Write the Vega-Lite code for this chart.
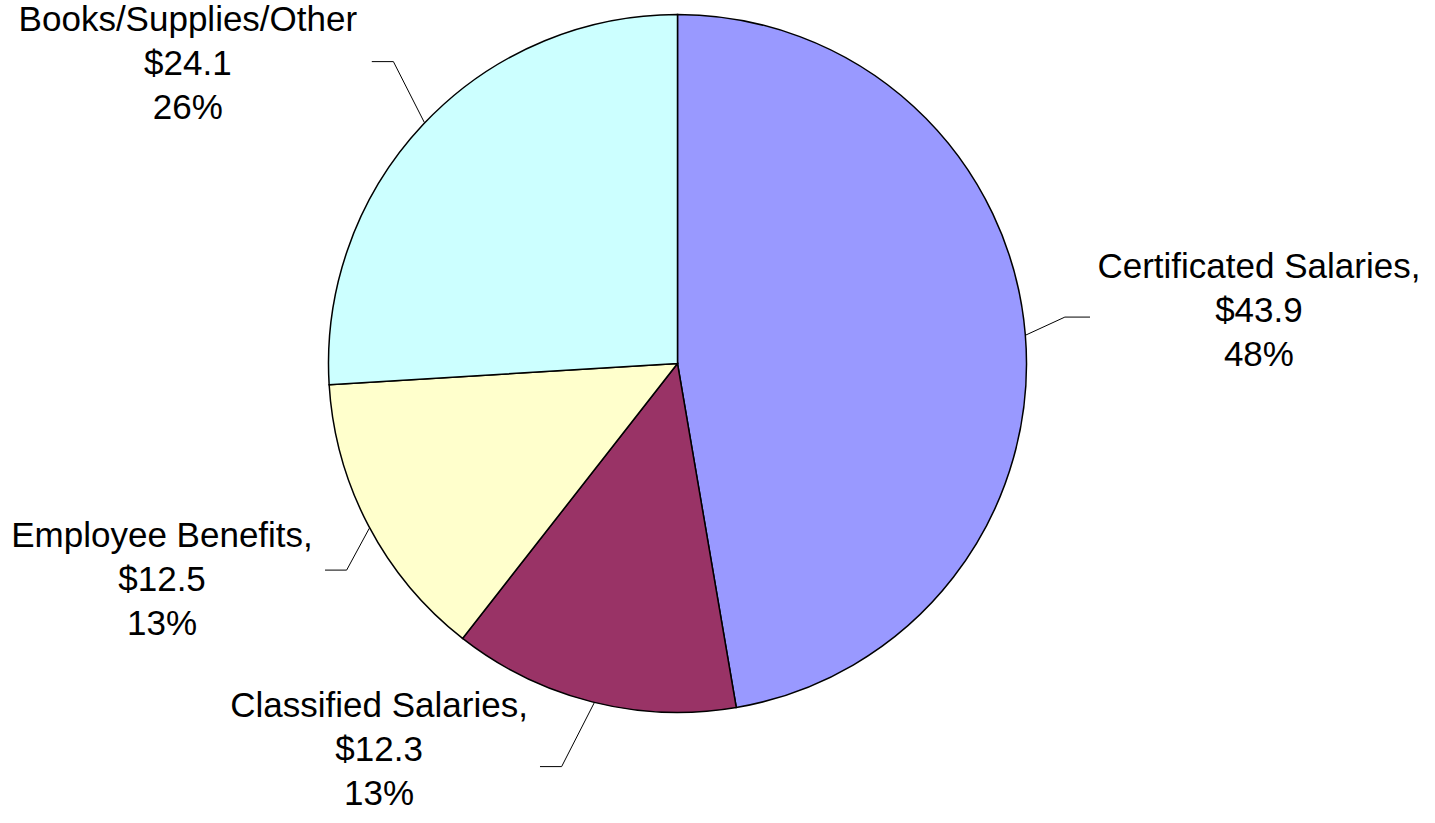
{
  "$schema": "https://vega.github.io/schema/vega-lite/v6.json",
  "width": 1355,
  "height": 727,
  "autosize": {"type": "none"},
  "padding": {"left": 0, "top": 0, "right": 80, "bottom": 96},
  "background": "white",
  "config": {"view": {"stroke": null}},
  "datasets": {
    "slices": [
      {"category": "Certificated Salaries", "amount": 43.9, "seq": 1, "label": "Certificated Salaries,\n$43.9\n48%", "labelX": 1.666, "labelY": 0.276},
      {"category": "Classified Salaries", "amount": 12.3, "seq": 2, "label": "Classified Salaries,\n$12.3\n13%", "labelX": -0.855, "labelY": -0.981},
      {"category": "Employee Benefits", "amount": 12.5, "seq": 3, "label": "Employee Benefits,\n$12.5\n13%", "labelX": -1.477, "labelY": -0.494},
      {"category": "Books/Supplies/Other", "amount": 24.1, "seq": 4, "label": "Books/Supplies/Other\n$24.1\n26%", "labelX": -1.403, "labelY": 0.983}
    ],
    "leaders": [
      {"leader": "Certificated Salaries", "pt": 1, "x": 0.997, "y": 0.081},
      {"leader": "Certificated Salaries", "pt": 2, "x": 1.110, "y": 0.133},
      {"leader": "Certificated Salaries", "pt": 3, "x": 1.182, "y": 0.133},
      {"leader": "Books/Supplies/Other", "pt": 1, "x": -0.725, "y": 0.690},
      {"leader": "Books/Supplies/Other", "pt": 2, "x": -0.814, "y": 0.865},
      {"leader": "Books/Supplies/Other", "pt": 3, "x": -0.876, "y": 0.865},
      {"leader": "Employee Benefits", "pt": 1, "x": -0.883, "y": -0.472},
      {"leader": "Employee Benefits", "pt": 2, "x": -0.948, "y": -0.592},
      {"leader": "Employee Benefits", "pt": 3, "x": -1.010, "y": -0.592},
      {"leader": "Classified Salaries", "pt": 1, "x": -0.238, "y": -0.971},
      {"leader": "Classified Salaries", "pt": 2, "x": -0.332, "y": -1.155},
      {"leader": "Classified Salaries", "pt": 3, "x": -0.394, "y": -1.155}
    ]
  },
  "layer": [
    {
      "data": {"name": "slices"},
      "mark": {"type": "arc", "outerRadius": 349, "stroke": "black", "strokeWidth": 1.5},
      "encoding": {
        "theta": {"field": "amount", "type": "quantitative", "stack": true},
        "order": {"field": "seq", "type": "quantitative"},
        "color": {
          "field": "category",
          "type": "nominal",
          "scale": {
            "domain": ["Certificated Salaries", "Classified Salaries", "Employee Benefits", "Books/Supplies/Other"],
            "range": ["#9999FF", "#993366", "#FFFFCC", "#CCFFFF"]
          },
          "legend": null
        }
      }
    },
    {
      "data": {"name": "leaders"},
      "mark": {"type": "line", "color": "black", "strokeWidth": 1},
      "encoding": {
        "x": {"field": "x", "type": "quantitative", "scale": {"domain": [-1.9413, 1.9413], "nice": false, "zero": false}, "axis": null},
        "y": {"field": "y", "type": "quantitative", "scale": {"domain": [-1.04155, 1.04155], "nice": false, "zero": false}, "axis": null},
        "detail": {"field": "leader", "type": "nominal"},
        "order": {"field": "pt", "type": "quantitative"}
      }
    },
    {
      "data": {"name": "slices"},
      "mark": {"type": "text", "align": "center", "baseline": "middle", "lineBreak": "\n", "font": "Liberation Sans", "fontSize": 35, "lineHeight": 44, "color": "black"},
      "encoding": {
        "x": {"field": "labelX", "type": "quantitative", "scale": {"domain": [-1.9413, 1.9413], "nice": false, "zero": false}, "axis": null},
        "y": {"field": "labelY", "type": "quantitative", "scale": {"domain": [-1.04155, 1.04155], "nice": false, "zero": false}, "axis": null},
        "text": {"field": "label", "type": "nominal"}
      }
    }
  ]
}
